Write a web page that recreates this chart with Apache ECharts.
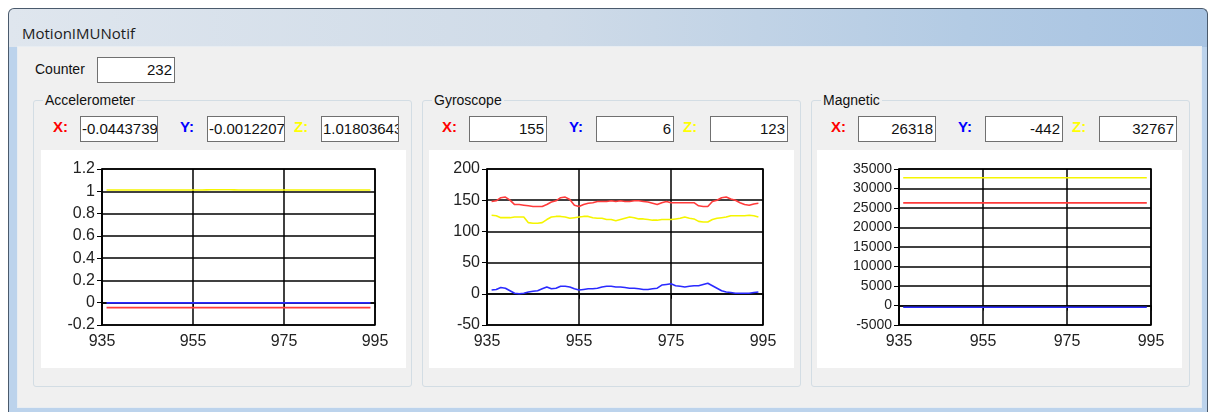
<!DOCTYPE html>
<html>
<head>
<meta charset="utf-8">
<script src="https://cdn.jsdelivr.net/npm/echarts@6/dist/echarts.min.js"></script>
<style>
  body { margin: 0; width: 1209px; height: 412px; background: #fff; position: relative; overflow: hidden;
         font-family: "Liberation Sans", Arial, sans-serif; }
  .win { position: absolute; left: 8px; top: 8px; width: 1198px; height: 404px;
         border: 1px solid #4a5a6c; border-bottom: none; border-radius: 6px 6px 0 0;
         background: linear-gradient(to bottom, rgba(255,255,255,0) 0, rgba(255,255,255,0) 38px, #bcd3ec 38px),
                     linear-gradient(to right, #dfe6ee 0%, #cfdbe8 45%, #b3cbe4 80%, #a7c3e2 100%); }
  .title { position: absolute; left: 13px; top: 14px; font-family: "Open Sans", "Noto Sans", sans-serif;
           font-size: 15px; color: #1c1c1c; }
  .panel { position: absolute; left: 8px; top: 37px; width: 1183px; height: 360px;
           background: #f0f0f0; border: 1px solid #e8edf2; }
  .lbl { position: absolute; font-size: 14px; color: #111; }
  .tb { position: absolute; height: 24px; width: 74px; background: #fff; border: 1px solid #707070;
        font-size: 15px; line-height: 24px; text-align: right; padding-right: 2px; white-space: nowrap;
        overflow: hidden; color: #111; }
  .tb.left { text-align: left; padding-right: 0; padding-left: 1px; width: 75px; }
  .grp { position: absolute; top: 100px; width: 377px; height: 285px; border: 1px solid #d3dde4; border-radius: 3px; }
  .grp .cap { position: absolute; left: 9px; top: -9px; background: #f0f0f0; padding: 0 2px; font-size: 14px; color: #111; }
  .axl { position: absolute; top: 17px; font-size: 15px; font-weight: bold; }
  .chart { position: absolute; top: 49px; width: 365px; height: 218px; background: #fff; }
</style>
</head>
<body>
<div class="win">
  <div class="title">MotionIMUNotif</div>
  <div class="panel"></div>
</div>

<div class="lbl" style="left:35px; top:61px;">Counter</div>
<div class="tb" id="counter" style="left:97px; top:57px;"></div>

<div class="grp" id="g0" style="left:33px;"><div class="cap">Accelerometer</div></div>
<div class="grp" id="g1" style="left:422px;"><div class="cap">Gyroscope</div></div>
<div class="grp" id="g2" style="left:811px;"><div class="cap">Magnetic</div></div>

<script>
// sample numbers on the x axis
const xs = [936, 937, 938, 939, 940, 941, 942, 943, 944, 945,
            946, 947, 948, 949, 950, 951, 952, 953, 954, 955,
            956, 957, 958, 959, 960, 961, 962, 963, 964, 965,
            966, 967, 968, 969, 970, 971, 972, 973, 974, 975,
            976, 977, 978, 979, 980, 981, 982, 983, 984, 985,
            986, 987, 988, 989, 990, 991, 992, 993, 994];

const counterValue = '232';

// Accelerometer (flat over the window)
const accelX = [-0.0444, -0.0444, -0.0444, -0.0444, -0.0444, -0.0444, -0.0444, -0.0444, -0.0444, -0.0444,
                -0.0444, -0.0444, -0.0444, -0.0444, -0.0444, -0.0444, -0.0444, -0.0444, -0.0444, -0.0444,
                -0.0444, -0.0444, -0.0444, -0.0444, -0.0444, -0.0444, -0.0444, -0.0444, -0.0444, -0.0444,
                -0.0444, -0.0444, -0.0444, -0.0444, -0.0444, -0.0444, -0.0444, -0.0444, -0.0444, -0.0444,
                -0.0444, -0.0444, -0.0444, -0.0444, -0.0444, -0.0444, -0.0444, -0.0444, -0.0444, -0.0444,
                -0.0444, -0.0444, -0.0444, -0.0444, -0.0444, -0.0444, -0.0444, -0.0444, -0.0444];
const accelY = [-0.0012, -0.0012, -0.0012, -0.0012, -0.0012, -0.0012, -0.0012, -0.0012, -0.0012, -0.0012,
                -0.0012, -0.0012, -0.0012, -0.0012, -0.0012, -0.0012, -0.0012, -0.0012, -0.0012, -0.0012,
                -0.0012, -0.0012, -0.0012, -0.0012, -0.0012, -0.0012, -0.0012, -0.0012, -0.0012, -0.0012,
                -0.0012, -0.0012, -0.0012, -0.0012, -0.0012, -0.0012, -0.0012, -0.0012, -0.0012, -0.0012,
                -0.0012, -0.0012, -0.0012, -0.0012, -0.0012, -0.0012, -0.0012, -0.0012, -0.0012, -0.0012,
                -0.0012, -0.0012, -0.0012, -0.0012, -0.0012, -0.0012, -0.0012, -0.0012, -0.0012];
const accelZ = [1.012, 1.012, 1.012, 1.012, 1.012, 1.012, 1.012, 1.012, 1.012, 1.012,
                1.012, 1.012, 1.012, 1.012, 1.012, 1.012, 1.012, 1.012, 1.012, 1.012,
                1.012, 1.012, 1.013, 1.014, 1.014, 1.014, 1.014, 1.014, 1.013, 1.012,
                1.012, 1.012, 1.012, 1.012, 1.012, 1.012, 1.012, 1.012, 1.012, 1.012,
                1.012, 1.012, 1.012, 1.012, 1.012, 1.012, 1.012, 1.012, 1.012, 1.012,
                1.012, 1.012, 1.012, 1.012, 1.012, 1.012, 1.012, 1.012, 1.012];

// Gyroscope
const gyroX = [148, 149, 154, 155, 150, 143, 143, 142, 141, 140,
               140, 140, 143, 147, 149, 154, 155, 151, 142, 140,
               143, 145, 146, 148, 148, 148, 149, 148, 149, 148,
               148, 149, 149, 148, 147, 145, 143, 146, 148, 146,
               146, 146, 146, 146, 146, 141, 140, 140, 148, 150,
               154, 155, 152, 150, 146, 143, 142, 144, 145];
const gyroY = [6, 7, 10, 9, 5, 1, 0, 1, 3, 4,
               5, 8, 11, 8, 9, 12, 12, 11, 8, 6,
               7, 8, 8, 9, 11, 12, 12, 11, 11, 10,
               9, 9, 8, 7, 7, 8, 9, 14, 15, 16,
               13, 12, 11, 12, 13, 13, 15, 17, 13, 9,
               5, 3, 2, 1, 1, 1, 1, 2, 3];
const gyroZ = [126, 125, 122, 122, 122, 123, 123, 123, 114, 113,
               113, 114, 119, 123, 124, 124, 123, 121, 122, 123,
               124, 124, 122, 121, 121, 119, 119, 117, 119, 121,
               123, 122, 120, 120, 119, 118, 118, 119, 119, 119,
               120, 121, 123, 121, 120, 116, 115, 115, 119, 121,
               122, 123, 125, 125, 125, 125, 126, 125, 123];

// Magnetic (flat over the window)
const magX = [26318, 26318, 26318, 26318, 26318, 26318, 26318, 26318, 26318, 26318,
              26318, 26318, 26318, 26318, 26318, 26318, 26318, 26318, 26318, 26318,
              26318, 26318, 26318, 26318, 26318, 26318, 26318, 26318, 26318, 26318,
              26318, 26318, 26318, 26318, 26318, 26318, 26318, 26318, 26318, 26318,
              26318, 26318, 26318, 26318, 26318, 26318, 26318, 26318, 26318, 26318,
              26318, 26318, 26318, 26318, 26318, 26318, 26318, 26318, 26318];
const magY = [-442, -442, -442, -442, -442, -442, -442, -442, -442, -442,
              -442, -442, -442, -442, -442, -442, -442, -442, -442, -442,
              -442, -442, -442, -442, -442, -442, -442, -442, -442, -442,
              -442, -442, -442, -442, -442, -442, -442, -442, -442, -442,
              -442, -442, -442, -442, -442, -442, -442, -442, -442, -442,
              -442, -442, -442, -442, -442, -442, -442, -442, -442];
const magZ = [32767, 32767, 32767, 32767, 32767, 32767, 32767, 32767, 32767, 32767,
              32767, 32767, 32767, 32767, 32767, 32767, 32767, 32767, 32767, 32767,
              32767, 32767, 32767, 32767, 32767, 32767, 32767, 32767, 32767, 32767,
              32767, 32767, 32767, 32767, 32767, 32767, 32767, 32767, 32767, 32767,
              32767, 32767, 32767, 32767, 32767, 32767, 32767, 32767, 32767, 32767,
              32767, 32767, 32767, 32767, 32767, 32767, 32767, 32767, 32767];

// latest readings shown in the text boxes
const accelText = ['-0.0443739', '-0.0012207', '1.01803643'];
const gyroText = ['155', '6', '123'];
const magText = ['26318', '-442', '32767'];

const xTicks = { min: 935, max: 995, interval: 20 };
const axisColors = ['#ff0000', '#0000ff', '#ffff00'];
const lineColors = ['#ff3b3b', '#2a2aff', '#f5f500'];

const panels = [
  { group: 'g0', text: accelText, leftAlign: true, series: [accelX, accelY, accelZ],
    yMin: -0.2, yMax: 1.2, yInterval: 0.2, gridLeft: 61, labelSize: 16, chartLeft: 7 },
  { group: 'g1', text: gyroText, leftAlign: false, series: [gyroX, gyroY, gyroZ],
    yMin: -50, yMax: 200, yInterval: 50, gridLeft: 58, labelSize: 16, chartLeft: 6 },
  { group: 'g2', text: magText, leftAlign: false, series: [magX, magY, magZ],
    yMin: -5000, yMax: 35000, yInterval: 5000, gridLeft: 82, labelSize: 14, chartLeft: 5 }
];

document.getElementById('counter').textContent = counterValue;

const labelLeft = [19, 146, 260];
const boxLeft = [46, 173, 287];
const font = '"Liberation Sans", Arial, sans-serif';

panels.forEach(p => {
  const g = document.getElementById(p.group);
  ['X:', 'Y:', 'Z:'].forEach((name, i) => {
    const l = document.createElement('div');
    l.className = 'axl';
    l.style.left = labelLeft[i] + 'px';
    l.style.color = axisColors[i];
    l.textContent = name;
    g.appendChild(l);
    const t = document.createElement('div');
    t.className = 'tb' + (p.leftAlign ? ' left' : '');
    t.style.left = boxLeft[i] + 'px';
    t.style.top = '15px';
    t.textContent = p.text[i];
    g.appendChild(t);
  });

  const el = document.createElement('div');
  el.className = 'chart';
  el.style.left = p.chartLeft + 'px';
  g.appendChild(el);

  const chart = echarts.init(el);
  const lineAxis = { show: true, lineStyle: { color: '#000', width: 1.5 } };
  chart.setOption({
    animation: false,
    grid: { left: p.gridLeft, right: 31, top: 19, bottom: 43, show: true, borderColor: '#000', borderWidth: 1.5 },
    xAxis: {
      type: 'value', min: xTicks.min, max: xTicks.max, interval: xTicks.interval,
      axisLine: lineAxis,
      axisTick: { show: true, length: 5, lineStyle: { color: '#000' } },
      axisLabel: { fontSize: 16, color: '#222', margin: 9, fontFamily: font, formatter: v => String(v) },
      splitLine: { show: true, lineStyle: { color: '#000', width: 1.5 } }
    },
    yAxis: {
      type: 'value', min: p.yMin, max: p.yMax, interval: p.yInterval,
      axisLine: lineAxis,
      axisTick: { show: true, length: 5, lineStyle: { color: '#000' } },
      axisLabel: { fontSize: p.labelSize, color: '#222', margin: 7, fontFamily: font,
                   formatter: v => String(+v.toFixed(4)) },
      splitLine: { show: true, lineStyle: { color: '#000', width: 1.5 } }
    },
    series: p.series.map((vals, i) => ({
      type: 'line',
      showSymbol: false,
      data: xs.map((x, k) => [x, vals[k]]),
      lineStyle: { color: lineColors[i], width: 1.6 },
      itemStyle: { color: lineColors[i] }
    }))
  });
});
</script>
</body>
</html>
